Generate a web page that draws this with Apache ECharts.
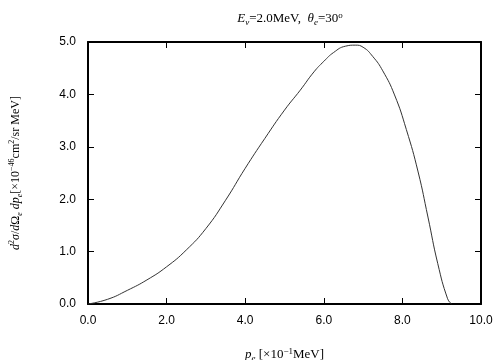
<!DOCTYPE html>
<html>
<head>
<meta charset="utf-8">
<script src="https://cdn.jsdelivr.net/npm/echarts@6/dist/echarts.min.js"></script>
<style>
  html, body { margin: 0; padding: 0; background: #fff; }
  #chart { width: 504px; height: 360px; }
</style>
</head>
<body>
<div id="chart"></div>
<script>
// momentum p_e [x10^-1 MeV] and cross section [x10^-46 cm^2/sr MeV]
var pe = [0, 0.5, 1.0, 1.5, 2.0, 2.5, 3.0, 3.5, 4.0, 4.5, 5.0, 5.4, 5.75, 6.0, 6.25, 6.55, 6.8, 7.0, 7.25, 7.5, 7.8, 8.1, 8.4, 8.65, 8.9, 9.15, 9.25];
var sigma = [0, 0.09, 0.26, 0.46, 0.71, 1.03, 1.44, 1.98, 2.59, 3.16, 3.70, 4.08, 4.43, 4.63, 4.80, 4.92, 4.94, 4.90, 4.72, 4.45, 3.99, 3.33, 2.52, 1.66, 0.77, 0.10, 0];
var xTicks = [0, 2, 4, 6, 8, 10];
var yTicks = [0, 1, 2, 3, 4, 5];

var serif = '"Liberation Serif", "DejaVu Serif", serif';
var sans = '"Liberation Sans", Arial, sans-serif';

function richStyles (size) {
  var small = Math.round(size * 0.7);
  return {
    n: { fontFamily: serif, fontSize: size, fontWeight: 'normal', color: '#000', lineHeight: 16 },
    i: { fontFamily: serif, fontSize: size, fontWeight: 'normal', fontStyle: 'italic', color: '#000', lineHeight: 16 },
    isub: { fontFamily: serif, fontSize: small, fontWeight: 'normal', fontStyle: 'italic', color: '#000', lineHeight: 9, verticalAlign: 'bottom' },
    sup: { fontFamily: serif, fontSize: small, fontWeight: 'normal', color: '#000', lineHeight: 9, verticalAlign: 'top' }
  };
}

var chart = echarts.init(document.getElementById('chart'), null, { renderer: 'canvas' });

function fmt (v) { return v.toFixed(1); }

var axisLine = { show: true, onZero: false, lineStyle: { color: '#000', width: 2 } };
var axisTick = { show: true, inside: true, length: 6, lineStyle: { color: '#000', width: 1 } };

var option = {
  backgroundColor: '#fff',
  animation: false,
  title: {
    text: '{i|E}{isub|ν}{n|=2.0MeV,  }{i|θ}{isub|e}{n|=30}{sup|o}',
    left: 285,
    textAlign: 'center',
    top: 6,
    textStyle: { rich: richStyles(13), fontSize: 13, fontWeight: 'normal' }
  },
  grid: { left: 88, right: 23, top: 42, bottom: 56, outerBoundsMode: 'none', containLabel: false },
  xAxis: [
    {
      type: 'value',
      min: 0, max: 10, interval: 2,
      axisLine: axisLine,
      axisTick: axisTick,
      splitLine: { show: false },
      axisLabel: { formatter: fmt, color: '#000', fontFamily: sans, fontSize: 12, margin: 11 },
      name: '{i|p}{isub|e}{n| [×10}{sup|−1}{n|MeV]}',
      nameLocation: 'middle',
      nameGap: 43,
      nameTextStyle: { rich: richStyles(13) }
    },
    {
      type: 'value', position: 'top',
      min: 0, max: 10, interval: 2,
      axisLine: axisLine,
      axisTick: axisTick,
      axisLabel: { show: false },
      splitLine: { show: false }
    }
  ],
  yAxis: [
    {
      type: 'value',
      min: 0, max: 5, interval: 1,
      axisLine: axisLine,
      axisTick: axisTick,
      splitLine: { show: false },
      axisLabel: { formatter: fmt, color: '#000', fontFamily: sans, fontSize: 12, margin: 12 },
      name: '{i|d}{sup|2}{i|σ}{n|/}{i|d}{n|Ω}{isub|e}{n| }{i|dp}{isub|e}{n|[×10}{sup|−46}{n|cm}{sup|2}{n|/sr MeV]}',
      nameLocation: 'middle',
      nameRotate: 90,
      nameGap: 64,
      nameTextStyle: { rich: richStyles(12) }
    },
    {
      type: 'value', position: 'right',
      min: 0, max: 5, interval: 1,
      axisLine: axisLine,
      axisTick: axisTick,
      axisLabel: { show: false },
      splitLine: { show: false }
    }
  ],
  series: [
    {
      type: 'line',
      data: pe.map(function (x, k) { return [x, sigma[k]]; }),
      smooth: 0.5,
      showSymbol: false,
      lineStyle: { color: '#333', width: 1 }
    }
  ]
};

chart.setOption(option);
</script>
</body>
</html>
